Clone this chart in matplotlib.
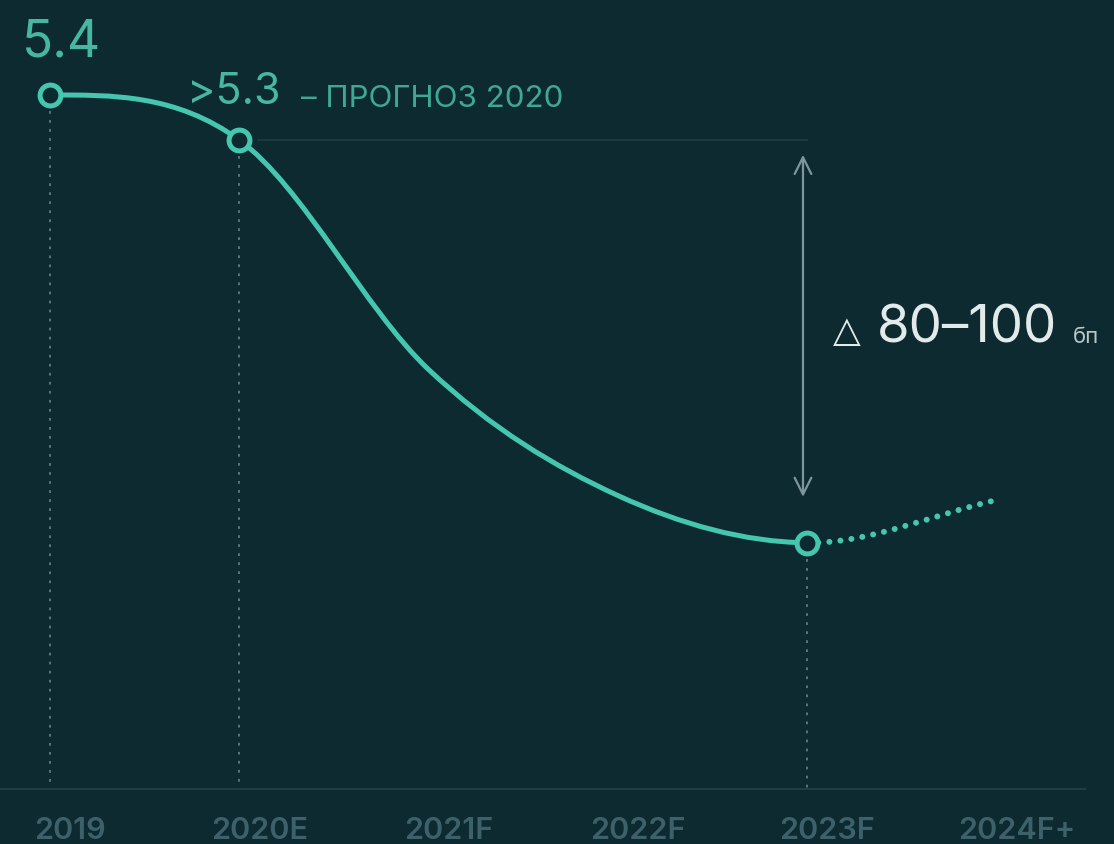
import numpy as np
import matplotlib
matplotlib.use('Agg')
from matplotlib import pyplot as plt
from matplotlib.path import Path
from matplotlib.patches import PathPatch
from matplotlib.transforms import ScaledTranslation

years = ['2019', '2020E', '2021F', '2022F', '2023F', '2024F+']
values = [5.4, 5.3, 4.79, 4.51, 4.405, 4.5]
marked = [0, 1, 4]          # points drawn with a circle
solid_end = 4               # solid line up to 2023F, dotted after

bg = '#0e2a31'
teal = '#45c6ae'
grey = '#5f7d83'
fam = ['Inter', 'Noto Sans', 'DejaVu Sans']

x = np.arange(len(years))
y = np.array(values)
slopes = np.gradient(y)
slopes[0] = 0.0


def bezier_path(i0, i1):
    verts = [(x[i0], y[i0])]
    codes = [Path.MOVETO]
    for i in range(i0, i1):
        verts += [(x[i] + 1 / 3, y[i] + slopes[i] / 3),
                  (x[i + 1] - 1 / 3, y[i + 1] - slopes[i + 1] / 3),
                  (x[i + 1], y[i + 1])]
        codes += [Path.CURVE4] * 3
    return Path(verts, codes)


fig = plt.figure(figsize=(11.14, 8.44), dpi=100, facecolor=bg)
ax = fig.add_axes([0, 0.0652, 1, 0.9348], facecolor=bg)
ax.set_xlim(-0.264, 5.621)
ax.set_ylim(3.858, 5.611)

# faint guide from 2020E level
ax.plot([x[1] + 0.1, x[4]], [y[1], y[1]], color='#1d3e45', lw=1.2, zorder=1)

# dotted drop lines
for i in marked:
    ax.plot([x[i], x[i]], [y[i] - 0.015, 3.858], color=grey, lw=1.3,
            ls=(0, (1.5, 3.5)), zorder=1)

ax.add_patch(PathPatch(bezier_path(0, solid_end), fill=False, ec=teal, lw=3.6,
                       capstyle='round', zorder=3))
ax.add_patch(PathPatch(bezier_path(solid_end, len(x) - 1), fill=False, ec=teal,
                       lw=4.3, ls=(0, (0.01, 1.85)), capstyle='round', zorder=3))

ax.plot(x[marked], y[marked], 'o', ms=15, mfc=bg, mec=teal, mew=3.6, zorder=4)

# labels
ax.annotate('5.4', (x[0], y[0]), xytext=(-28, 38), textcoords='offset pixels',
            color='#46b8a1', fontsize=37, family=fam, ha='left', va='baseline')
ax.annotate('>5.3', (x[1], y[1]), xytext=(-52, 36), textcoords='offset pixels',
            color='#46b8a1', fontsize=31, family=fam, ha='left', va='baseline')
ax.annotate('– ПРОГНОЗ 2020', (x[1], y[1]), xytext=(62, 33), textcoords='offset pixels',
            color='#3fa893', fontsize=22.5, family=fam, ha='left', va='baseline')

# delta arrow
ax.annotate('', xy=(3.978, 4.507), xytext=(3.978, 5.267),
            arrowprops=dict(arrowstyle='<->', color='#7e969b', lw=1.6,
                            mutation_scale=30, shrinkA=0, shrinkB=0))
mid = (4.507 + 5.267) / 2
ax.annotate('△', (x[4], mid), xytext=(26, -16), textcoords='offset pixels',
            color='#e3eaea', fontsize=26, family=['DejaVu Sans'], weight='bold',
            ha='left', va='baseline')
ax.annotate('80–100', (x[4], mid), xytext=(70, -17), textcoords='offset pixels',
            color='#e3eaea', fontsize=38, family=fam, ha='left', va='baseline')
ax.annotate('бп', (x[4], mid), xytext=(266, -17), textcoords='offset pixels',
            color='#b9c6c8', fontsize=16, family=fam, ha='left', va='baseline')

# axis
for s in ['top', 'right', 'left']:
    ax.spines[s].set_visible(False)
ax.spines['bottom'].set_color('#1d3e45')
ax.spines['bottom'].set_linewidth(1.5)
ax.spines['bottom'].set_bounds(-0.264, 5.47)
ax.set_yticks([])
ax.set_xticks(x, years)
ax.tick_params(axis='x', length=0, pad=20, labelsize=22, labelcolor='#3c616a')
for lab in ax.get_xticklabels():
    lab.set_family(fam)
    lab.set_fontweight('semibold')
    lab.set_transform(lab.get_transform() + ScaledTranslation(0.2, 0, fig.dpi_scale_trans))

fig.savefig('out.png', dpi=100, facecolor=bg)
